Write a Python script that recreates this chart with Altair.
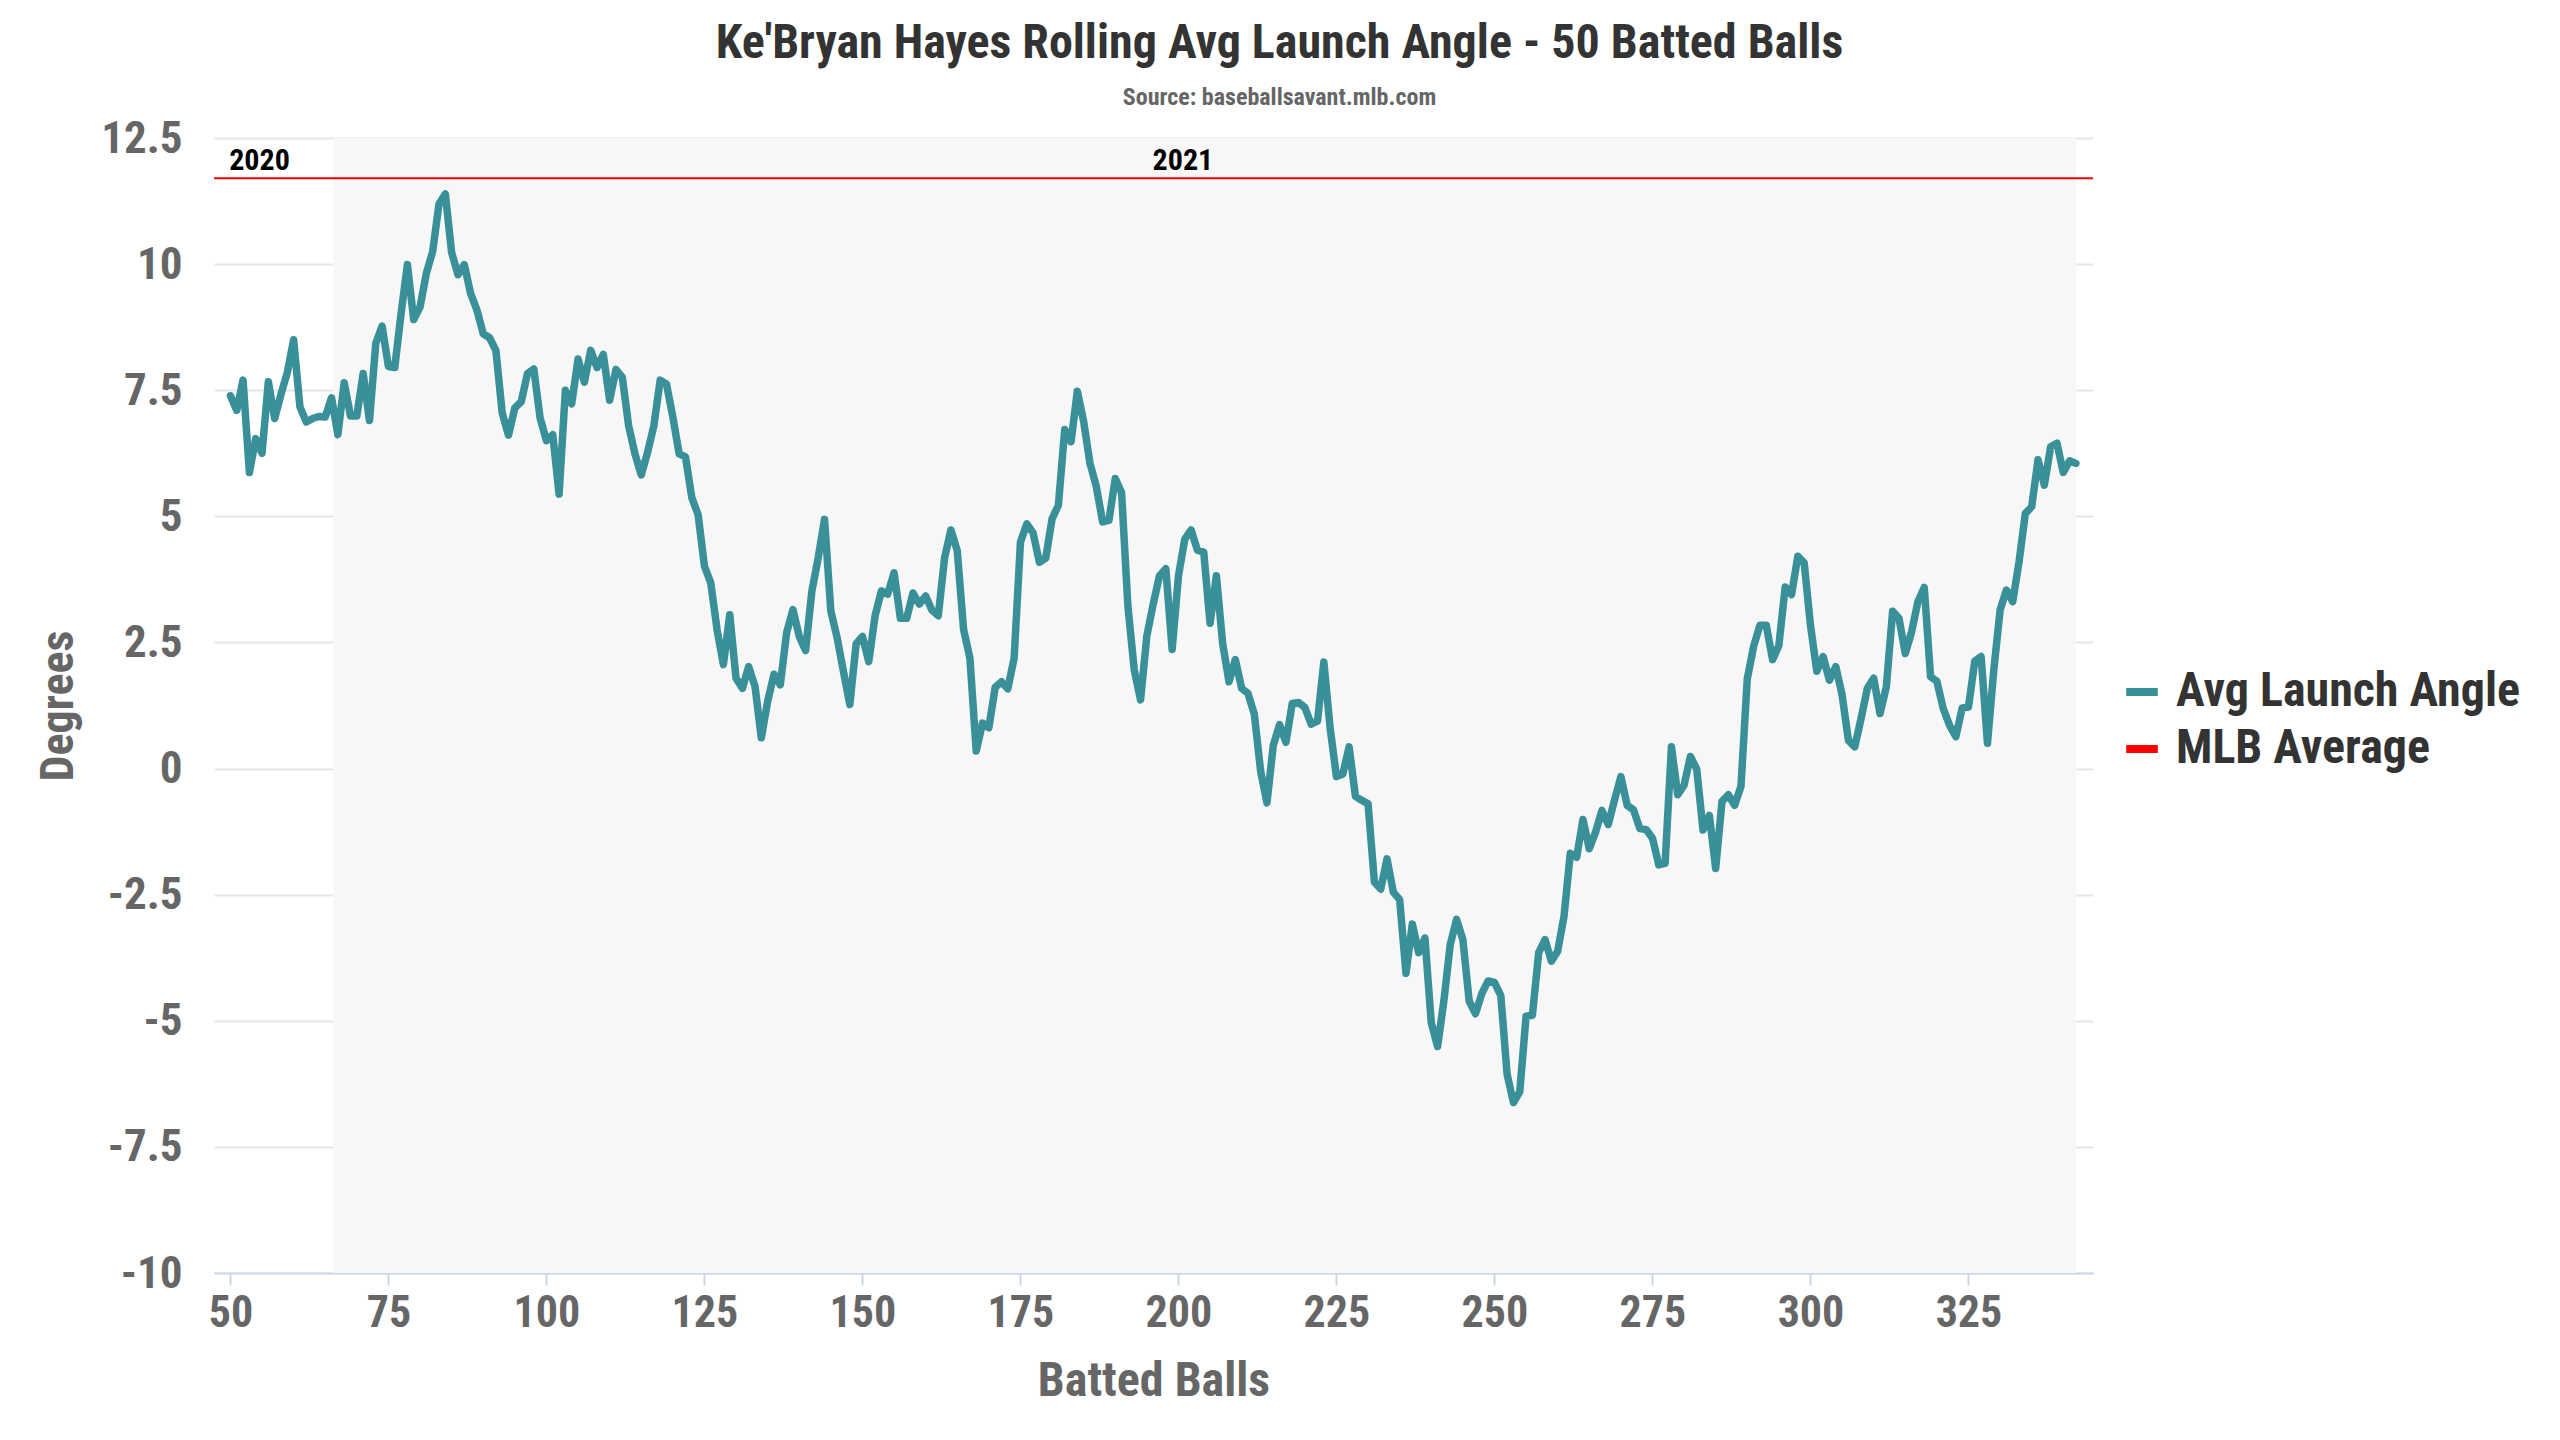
import altair as alt
import pandas as pd

# ---- data ----
batted_balls = list(range(50, 343))
launch_angle = [
    7.39, 7.10, 7.70, 5.87, 6.54, 6.25, 7.67, 6.94, 7.42, 7.85,
    8.50, 7.17, 6.87, 6.94, 6.98, 6.97, 7.35, 6.62, 7.65, 6.99,
    6.99, 7.83, 6.90, 8.43, 8.77, 7.97, 7.95, 9.02, 9.99, 8.90,
    9.15, 9.82, 10.25, 11.19, 11.39, 10.23, 9.79, 9.99, 9.42, 9.09,
    8.62, 8.54, 8.29, 7.05, 6.61, 7.15, 7.27, 7.83, 7.92, 6.95,
    6.50, 6.62, 5.44, 7.50, 7.23, 8.12, 7.66, 8.29, 7.95, 8.21,
    7.30, 7.91, 7.76, 6.80, 6.24, 5.82, 6.27, 6.80, 7.70, 7.62,
    6.97, 6.24, 6.18, 5.37, 5.03, 4.01, 3.68, 2.75, 2.06, 3.05,
    1.79, 1.59, 2.02, 1.63, 0.61, 1.33, 1.87, 1.66, 2.69, 3.15,
    2.62, 2.34, 3.52, 4.18, 4.94, 3.12, 2.59, 1.92, 1.27, 2.47,
    2.62, 2.12, 3.03, 3.52, 3.46, 3.88, 2.98, 2.98, 3.48, 3.26,
    3.42, 3.14, 3.03, 4.18, 4.73, 4.32, 2.76, 2.19, 0.35, 0.90,
    0.81, 1.61, 1.72, 1.58, 2.19, 4.49, 4.85, 4.67, 4.09, 4.17,
    4.95, 5.22, 6.72, 6.48, 7.48, 6.88, 6.05, 5.59, 4.89, 4.92,
    5.75, 5.47, 3.22, 1.96, 1.36, 2.63, 3.26, 3.82, 3.96, 2.36,
    3.82, 4.55, 4.73, 4.33, 4.29, 2.88, 3.82, 2.47, 1.72, 2.16,
    1.59, 1.49, 1.08, -0.05, -0.68, 0.46, 0.87, 0.52, 1.29, 1.31,
    1.21, 0.88, 0.94, 2.11, 0.80, -0.16, -0.11, 0.43, -0.55, -0.63,
    -0.70, -2.25, -2.39, -1.79, -2.45, -2.60, -4.06, -3.08, -3.65, -3.36,
    -5.04, -5.51, -4.60, -3.49, -2.99, -3.39, -4.61, -4.86, -4.46, -4.21,
    -4.24, -4.50, -6.06, -6.62, -6.41, -4.91, -4.89, -3.65, -3.39, -3.82,
    -3.62, -2.93, -1.68, -1.76, -1.01, -1.59, -1.26, -0.83, -1.11, -0.62,
    -0.16, -0.73, -0.82, -1.19, -1.21, -1.38, -1.91, -1.88, 0.43, -0.52,
    -0.33, 0.24, -0.01, -1.22, -0.93, -1.98, -0.65, -0.52, -0.73, -0.35,
    1.78, 2.42, 2.84, 2.84, 2.16, 2.44, 3.60, 3.45, 4.21, 4.08,
    2.84, 1.93, 2.22, 1.75, 2.02, 1.46, 0.56, 0.43, 0.99, 1.59,
    1.79, 1.09, 1.62, 3.12, 2.98, 2.28, 2.71, 3.31, 3.59, 1.82,
    1.73, 1.19, 0.86, 0.63, 1.20, 1.22, 2.13, 2.22, 0.50, 1.95,
    3.14, 3.54, 3.31, 4.10, 5.06, 5.19, 6.12, 5.62, 6.38, 6.45,
    5.87, 6.10, 6.05,
]
mlb_average = 11.7
series_names = ["Avg Launch Angle", "MLB Average"]
series_colors = ["#3a9098", "#ff0000"]
season_labels = ["2020", "2021"]
season_label_x = [54.6, 200.7]
season_label_y = 12.05
band_start, band_end = 66.3, 342
x_ticks = [50, 75, 100, 125, 150, 175, 200, 225, 250, 275, 300, 325]
y_ticks = [-10, -7.5, -5, -2.5, 0, 2.5, 5, 7.5, 10, 12.5]
x_domain = [47.4, 344.7]
y_domain = [-10, 12.5]

FONT = "'Roboto Condensed', 'Liberation Sans Narrow', 'Roboto', sans-serif"

line_df = pd.DataFrame({"n": batted_balls, "value": launch_angle, "series": series_names[0]})
avg_df = pd.DataFrame({"value": [mlb_average], "series": [series_names[1]]})
band_df = pd.DataFrame({"x1": [band_start], "x2": [band_end], "top": [y_domain[1]], "bottom": [y_domain[0]]})
label_df = pd.DataFrame({"label": season_labels, "x": season_label_x, "y": [season_label_y] * 2})

xscale = alt.Scale(domain=x_domain, nice=False, zero=False)
yscale = alt.Scale(domain=y_domain, nice=False, zero=False)
cscale = alt.Scale(domain=series_names, range=series_colors)

band = alt.Chart(band_df).mark_rect(color="#f7f7f7").encode(
    x=alt.X("x1:Q", scale=xscale),
    x2="x2:Q",
    y=alt.Y("top:Q", scale=yscale),
    y2="bottom:Q",
)

line = alt.Chart(line_df).mark_line(strokeWidth=7.5, strokeJoin="round", strokeCap="round").encode(
    x=alt.X(
        "n:Q",
        scale=xscale,
        axis=alt.Axis(
            values=x_ticks,
            title="Batted Balls",
            grid=False,
            domain=True,
            domainColor="#ccd6eb",
            domainWidth=2,
            ticks=True,
            tickColor="#ccd6eb",
            tickWidth=2,
            tickSize=12,
            labelPadding=6,
            labelFont=FONT,
            labelFontSize=44,
            labelFontWeight="bold",
            labelColor="#666666",
            titleFont=FONT,
            titleFontSize=48,
            titleFontWeight="bold",
            titleColor="#666666",
            titlePadding=22,
            labelFlush=False,
        ),
    ),
    y=alt.Y(
        "value:Q",
        scale=yscale,
        axis=alt.Axis(
            values=y_ticks,
            title="Degrees",
            grid=True,
            gridColor="#e6e6e6",
            gridWidth=2,
            domain=False,
            ticks=False,
            labelPadding=32,
            labelExpr="datum.value + ''",
            labelFont=FONT,
            labelFontSize=45,
            labelFontWeight="bold",
            labelColor="#666666",
            titleFont=FONT,
            titleFontSize=46,
            titleFontWeight="bold",
            titleColor="#666666",
            titlePadding=18,
        ),
    ),
    color=alt.Color(
        "series:N",
        scale=cscale,
        legend=alt.Legend(
            title=None,
            orient="none",
            legendX=1904,
            legendY=530,
            symbolType="stroke",
            symbolStrokeWidth=8,
            symbolSize=1000,
            labelFont=FONT,
            labelFontSize=48,
            labelFontWeight="bold",
            labelColor="#333333",
            labelLimit=800,
            labelOffset=10,
            rowPadding=9,
            padding=0,
        ),
    ),
)

avg = alt.Chart(avg_df).mark_rule(strokeWidth=2).encode(
    y=alt.Y("value:Q", scale=yscale),
    color=alt.Color("series:N", scale=cscale),
)

labels = alt.Chart(label_df).mark_text(
    font=FONT, fontSize=30, fontWeight="bold", color="#000000", align="center", baseline="middle"
).encode(
    x=alt.X("x:Q", scale=xscale),
    y=alt.Y("y:Q", scale=yscale),
    text="label:N",
)

chart = (
    alt.layer(band, line, avg, labels)
    .properties(
        width=1879,
        height=1135,
        padding={"left": 206, "top": 130, "right": 459, "bottom": 145},
        autosize=alt.AutoSizeParams(type="none"),
        background="#ffffff",
        title=alt.TitleParams(
            text="Ke'Bryan Hayes Rolling Avg Launch Angle - 50 Batted Balls",
            subtitle="Source: baseballsavant.mlb.com",
            font=FONT,
            fontSize=48,
            fontWeight="bold",
            color="#333333",
            subtitleFont=FONT,
            subtitleFontSize=24,
            subtitleFontWeight="bold",
            subtitleColor="#666666",
            subtitlePadding=18,
            anchor="middle",
            frame="group",
            dx=126,
            offset=6,
        ),
    )
    .configure_view(strokeWidth=0)
)

chart.save("out.html", embed_options={"renderer": "svg", "actions": False})
